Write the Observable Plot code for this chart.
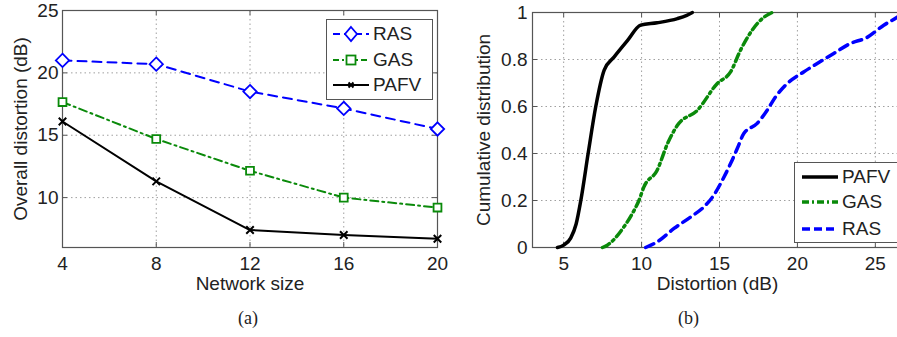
<!DOCTYPE html>
<html><head><meta charset="utf-8">
<script src="https://cdn.jsdelivr.net/npm/d3@7"></script>
<script src="https://cdn.jsdelivr.net/npm/@observablehq/plot@0.6"></script>
<style>
html,body{margin:0;padding:0;background:#fff;overflow:hidden;}
#wrap{position:relative;width:897px;height:337px;overflow:hidden;font-family:"Liberation Sans",Arial,sans-serif;}
.panel{position:absolute;top:0;}
.legend{position:absolute;background:#fff;border:1.5px solid #555;box-sizing:border-box;}
.legend .row{position:absolute;left:0;height:24px;display:flex;align-items:center;font-size:19px;color:#222;}
.cap{position:absolute;top:308px;font-family:"Liberation Serif","Times New Roman",serif;font-size:18px;color:#222;}
</style></head>
<body><div id="wrap"></div>
<script>
// ---- Panel (a) data ----
const networkSizes = [4, 8, 12, 16, 20];
const rasA  = [21.0, 20.7, 18.5, 17.15, 15.5];
const gasA  = [17.66, 14.7, 12.15, 10.0, 9.2];
const pafvA = [16.1, 11.3, 7.4, 7.0, 6.7];
const xTicksA = [4, 8, 12, 16, 20];
const yTicksA = [10, 15, 20, 25];

// ---- Panel (b) data (CDF curves) ----
const pafvCdfX = [4.6, 5.0, 5.45, 5.8, 6.1, 6.57, 7.06, 7.6, 8.23, 9.09, 9.94, 11.0, 12.3, 12.9, 13.26];
const pafvCdfY = [0, 0.01, 0.04, 0.1, 0.2, 0.4, 0.6, 0.755, 0.81, 0.88, 0.946, 0.956, 0.974, 0.988, 1.0];
const gasCdfX = [7.49, 7.8, 8.87, 9.41, 9.83, 10.15, 11.0, 11.65, 12.3, 13.58, 14.86, 15.71, 16.35, 17.1, 17.85, 18.38];
const gasCdfY = [0, 0.01, 0.088, 0.145, 0.2, 0.258, 0.329, 0.44, 0.52, 0.584, 0.698, 0.747, 0.84, 0.925, 0.98, 1.0];
const rasCdfX = [10.26, 11.0, 12.08, 13.15, 14.0, 14.64, 15.18, 15.71, 16.14, 16.56, 17.42, 18.06, 18.6, 19.35, 20.4, 21.27, 22.33, 23.4, 24.47, 25.54, 26.4, 26.8];
const rasCdfY = [0, 0.024, 0.081, 0.13, 0.173, 0.223, 0.286, 0.357, 0.421, 0.485, 0.528, 0.584, 0.641, 0.698, 0.747, 0.783, 0.826, 0.868, 0.894, 0.946, 0.98, 1.0];
const xTicksB = [5, 10, 15, 20, 25];
const yTicksB = [0, 0.2, 0.4, 0.6, 0.8, 1];

const BLUE = "#0000ff", GREEN = "#0a8a0a", BLACK = "#000";
const FONT = "Liberation Sans, Arial, sans-serif";
const FS = 19;
const gridStyle = {stroke: "#777", strokeOpacity: 0.7, strokeDasharray: "1.5,3"};

const wrap = document.getElementById("wrap");

function zip(xs, ys) { return xs.map((x, i) => ({x, y: ys[i]})); }

// ---------- Panel (a) ----------
{
  const W = 450, H = 300, mT = 10, mB = 53, mL = 62, mR = 13;
  const ph = H - mT - mB;
  const ras = zip(networkSizes, rasA), gas = zip(networkSizes, gasA), pafv = zip(networkSizes, pafvA);
  const chart = Plot.plot({
    width: W, height: H, marginTop: mT, marginBottom: mB, marginLeft: mL, marginRight: mR,
    style: {fontFamily: FONT, fontSize: FS + "px", background: "transparent", color: "#222", overflow: "visible"},
    x: {domain: [4, 20]},
    y: {domain: [6, 25]},
    marks: [
      Plot.gridX(xTicksA, gridStyle),
      Plot.gridY(yTicksA, gridStyle),
      Plot.tickX(xTicksA, {x: d => d, insetTop: ph - 5, stroke: "#555"}),
      Plot.tickX(xTicksA, {x: d => d, insetBottom: ph - 5, stroke: "#555"}),
      Plot.tickY(yTicksA, {y: d => d, insetRight: (W - mL - mR) - 5, stroke: "#555"}),
      Plot.tickY(yTicksA, {y: d => d, insetLeft: (W - mL - mR) - 5, stroke: "#555"}),
      Plot.frame({stroke: "#555", strokeWidth: 1.2}),
      Plot.axisX({ticks: xTicksA, tickSize: 0, tickPadding: 9, label: null, fontSize: FS}),
      Plot.axisY({ticks: yTicksA, tickSize: 0, tickPadding: 4, label: null, fontSize: FS}),
      Plot.text(["Network size"], {frameAnchor: "bottom", lineAnchor: "middle", textAnchor: "middle", dy: 36, text: d => d, fontSize: FS}),
      Plot.text(["Overall distortion (dB)"], {frameAnchor: "left", lineAnchor: "middle", textAnchor: "middle", dx: -42, rotate: -90, text: d => d, fontSize: FS}),
      Plot.line(ras, {x: "x", y: "y", stroke: BLUE, strokeWidth: 2, strokeDasharray: "9,6"}),
      Plot.line(gas, {x: "x", y: "y", stroke: GREEN, strokeWidth: 2, strokeDasharray: "8,4,2,4"}),
      Plot.line(pafv, {x: "x", y: "y", stroke: BLACK, strokeWidth: 2}),
      Plot.dot(ras, {x: "x", y: "y", symbol: "diamond2", r: 6, stroke: BLUE, fill: "white", strokeWidth: 1.8}),
      Plot.dot(gas, {x: "x", y: "y", symbol: "square2", r: 5, stroke: GREEN, fill: "white", strokeWidth: 1.8}),
      Plot.dot(pafv, {x: "x", y: "y", symbol: "times", r: 3.5, stroke: BLACK, strokeWidth: 2})
    ]
  });
  chart.classList.add("panel");
  chart.style.left = "0px";
  wrap.appendChild(chart);
}

// ---------- Panel (b) ----------
{
  const W = 460, H = 300, mT = 12, mB = 53, mL = 82, mR = 4;
  const ph = H - mT - mB, pw = W - mL - mR;
  const pafv = zip(pafvCdfX, pafvCdfY), gas = zip(gasCdfX, gasCdfY), ras = zip(rasCdfX, rasCdfY);
  const chart = Plot.plot({
    width: W, height: H, marginTop: mT, marginBottom: mB, marginLeft: mL, marginRight: mR,
    style: {fontFamily: FONT, fontSize: FS + "px", background: "transparent", color: "#222", overflow: "visible"},
    x: {domain: [3, 27]},
    y: {domain: [0, 1]},
    marks: [
      Plot.gridX(xTicksB, gridStyle),
      Plot.gridY(yTicksB, gridStyle),
      Plot.tickX(xTicksB, {x: d => d, insetTop: ph - 5, stroke: "#555"}),
      Plot.tickX(xTicksB, {x: d => d, insetBottom: ph - 5, stroke: "#555"}),
      Plot.tickY(yTicksB, {y: d => d, insetRight: pw - 5, stroke: "#555"}),
      Plot.frame({stroke: "#555", strokeWidth: 1.2}),
      Plot.axisX({ticks: xTicksB, tickSize: 0, tickPadding: 9, label: null, fontSize: FS}),
      Plot.axisY({ticks: yTicksB, tickSize: 0, tickPadding: 5, tickFormat: d => String(d), label: null, fontSize: FS}),
      Plot.text(["Distortion (dB)"], {frameAnchor: "bottom", lineAnchor: "middle", textAnchor: "middle", dx: 717 - 450 - mL - pw / 2, dy: 36, text: d => d, fontSize: FS}),
      Plot.text(["Cumulative distribution"], {frameAnchor: "left", lineAnchor: "middle", textAnchor: "middle", dx: -(mL - 33), rotate: -90, text: d => d, fontSize: FS}),
      Plot.line(ras, {x: "x", y: "y", stroke: BLUE, strokeWidth: 3.5, strokeDasharray: "9,6", curve: "monotone-x"}),
      Plot.line(gas, {x: "x", y: "y", stroke: GREEN, strokeWidth: 3.5, strokeDasharray: "8,4,2,4", curve: "monotone-x"}),
      Plot.line(pafv, {x: "x", y: "y", stroke: BLACK, strokeWidth: 3.5, curve: "monotone-x"})
    ]
  });
  chart.classList.add("panel");
  chart.style.left = "450px";
  wrap.appendChild(chart);
}

// ---------- Legends (HTML) ----------
function sample(color, dash, width, marker) {
  let m = "";
  if (marker === "diamond") m = `<path d="M18,5 L24,12 L18,19 L12,12 Z" fill="white" stroke="${color}" stroke-width="1.8"/>`;
  if (marker === "square") m = `<rect x="13.5" y="7.5" width="9" height="9" fill="white" stroke="${color}" stroke-width="1.8"/>`;
  if (marker === "times") m = `<path d="M15.5,9.5 L20.5,14.5 M20.5,9.5 L15.5,14.5" stroke="${color}" stroke-width="2"/>`;
  return `<svg width="36" height="24" style="display:block"><line x1="0" y1="12" x2="36" y2="12" stroke="${color}" stroke-width="${width}" ${dash ? `stroke-dasharray="${dash}"` : ""}/>${m}</svg>`;
}
function legend(left, top, w, h, rows, textLeft) {
  const d = document.createElement("div");
  d.className = "legend";
  Object.assign(d.style, {left: left + "px", top: top + "px", width: w + "px", height: h + "px"});
  d.innerHTML = rows.map(r => `<div class="row" style="top:${r.y - top - 12 - 1.5}px;left:${r.sx}px">${r.svg}<span style="margin-left:${textLeft}px">${r.label}</span></div>`).join("");
  wrap.appendChild(d);
}
legend(326, 19, 107, 81, [
  {y: 34, sx: 6, label: "RAS", svg: sample(BLUE, "7,4", 2, "diamond")},
  {y: 60, sx: 6, label: "GAS", svg: sample(GREEN, "6,3,2,3", 2, "square")},
  {y: 85, sx: 6, label: "PAFV", svg: sample(BLACK, null, 2, "times")}
], 4);
legend(794, 162, 120, 81, [
  {y: 177, sx: 7, label: "PAFV", svg: sample(BLACK, null, 3.5, null)},
  {y: 202, sx: 7, label: "GAS", svg: sample(GREEN, "7,3,2,3", 3.5, null)},
  {y: 229, sx: 7, label: "RAS", svg: sample(BLUE, "8,4", 3.5, null)}
], 4);

// ---------- Captions ----------
for (const [txt, cx] of [["(a)", 250], ["(b)", 690]]) {
  const c = document.createElement("div");
  c.className = "cap";
  c.textContent = txt;
  c.style.left = (cx - 12) + "px";
  wrap.appendChild(c);
}
</script></body></html>
